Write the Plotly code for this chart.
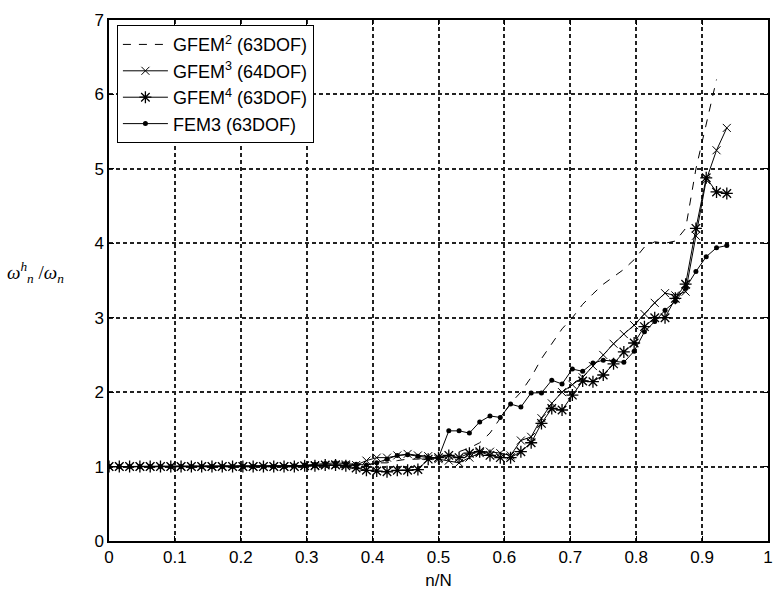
import plotly.graph_objects as go

# n/N sample positions (k/64)
n_over_N = [k / 64 for k in range(61)]

# Normalised frequency ratios omega_h / omega
gfem2 = [1.0] * 18 + [1.0, 1.0, 1.01, 1.01, 1.02, 1.02, 1.02,
         1.02, 1.05, 1.05, 1.08, 1.1, 1.1, 1.12, 1.12, 1.15,
         1.2, 1.25, 1.32, 1.45, 1.65, 1.85, 2.0, 2.2, 2.45, 2.65,
         2.85, 3.0, 3.18, 3.32, 3.45, 3.55, 3.65, 3.78, 3.95, 4.02,
         4.0, 4.03, 4.2, 5.0, 5.6, 6.2]

gfem3 = [1.0] * 18 + [1.0, 1.01, 1.02, 1.02, 1.03, 1.03, 1.02,
         1.08, 1.12, 1.12, 1.15, 1.17, 1.15, 1.14, 1.1, 1.08,
         1.05, 1.12, 1.18, 1.2, 1.18, 1.15, 1.35, 1.4, 1.65, 1.85,
         2.0, 2.1, 2.2, 2.35, 2.5, 2.65, 2.78, 2.9, 3.05, 3.2,
         3.33, 3.3, 3.35, 4.1, 4.85, 5.25, 5.55]

gfem4 = [1.0] * 18 + [1.0, 1.01, 1.01, 1.02, 1.02, 1.01, 0.98,
         0.95, 0.94, 0.93, 0.95, 0.95, 0.96, 1.1, 1.12, 1.15,
         1.12, 1.18, 1.2, 1.15, 1.12, 1.12, 1.2, 1.32, 1.58, 1.78,
         1.76, 1.96, 2.15, 2.14, 2.23, 2.38, 2.54, 2.66, 2.88, 3.0,
         3.0, 3.26, 3.45, 4.2, 4.88, 4.69, 4.67]

fem3 = [1.0] * 18 + [1.01, 1.02, 1.03, 1.04, 1.05, 1.04, 1.03,
        1.02, 1.05, 1.1, 1.15, 1.16, 1.14, 1.12, 1.12, 1.48,
        1.48, 1.45, 1.6, 1.68, 1.66, 1.84, 1.8, 1.99, 1.99, 2.16,
        2.11, 2.31, 2.28, 2.39, 2.43, 2.42, 2.4, 2.55, 2.81, 2.95,
        3.1, 3.22, 3.4, 3.62, 3.82, 3.94, 3.97]

x_ticks = [round(0.1 * i, 1) for i in range(11)]
x_tick_text = ["0"] + [f"{v:.1f}" for v in x_ticks[1:-1]] + ["1"]
y_ticks = list(range(8))

series_names = ["GFEM<sup>2</sup> (63DOF)", "GFEM<sup>3</sup> (64DOF)",
                "GFEM<sup>4</sup> (63DOF)", "FEM3 (63DOF)"]

fig = go.Figure()

fig.add_trace(go.Scatter(
    x=n_over_N[:len(gfem2)], y=gfem2, mode="lines", name=series_names[0],
    line=dict(color="black", width=1, dash="8px,8px")))

fig.add_trace(go.Scatter(
    x=n_over_N[:len(gfem3)], y=gfem3, mode="lines+markers", name=series_names[1],
    line=dict(color="black", width=1),
    marker=dict(symbol="x-thin-open", size=8, color="black",
                line=dict(color="black", width=1))))

fig.add_trace(go.Scatter(
    x=n_over_N[:len(gfem4)], y=gfem4, mode="lines+markers", name=series_names[2],
    line=dict(color="black", width=1),
    marker=dict(symbol="asterisk-open", size=10, color="black",
                line=dict(color="black", width=1.3))))

fig.add_trace(go.Scatter(
    x=n_over_N[:len(fem3)], y=fem3, mode="lines+markers", name=series_names[3],
    line=dict(color="black", width=1),
    marker=dict(symbol="circle", size=5, color="black")))

axis_common = dict(
    showline=True, linecolor="black", linewidth=1.5, mirror="ticks",
    ticks="inside", ticklen=5, tickcolor="black",
    showgrid=True, gridcolor="#222222", gridwidth=1.5, griddash="4px,3px",
    zeroline=False,
    tickfont=dict(family="Liberation Sans, Arial, sans-serif", size=17, color="black"),
)

fig.update_xaxes(range=[0, 1], tickvals=x_ticks, ticktext=x_tick_text,
                 title=dict(text="n/N", font=dict(family="Liberation Sans, Arial, sans-serif",
                                                  size=17, color="black"), standoff=8),
                 **axis_common)
fig.update_yaxes(range=[0, 7], tickvals=y_ticks, **axis_common)

fig.add_annotation(
    xref="paper", yref="paper", x=-0.158, y=0.515, xanchor="left", yanchor="middle",
    text="<i>ω</i><sup><i>h</i></sup><sub><i>n</i></sub> /<i>ω</i><sub><i>n</i></sub>",
    showarrow=False,
    font=dict(family="Liberation Serif, Times New Roman, serif", size=19, color="black"))

fig.update_layout(
    width=777, height=596,
    margin=dict(l=109, r=4, t=20, b=55),
    paper_bgcolor="white", plot_bgcolor="white",
    legend=dict(x=0.012, y=0.99, xanchor="left", yanchor="top",
                bgcolor="white", bordercolor="black", borderwidth=1,
                font=dict(family="Liberation Sans, Arial, sans-serif", size=18, color="black"),
                tracegroupgap=0, itemwidth=45),
    showlegend=True,
)

fig.write_html("out.html")
